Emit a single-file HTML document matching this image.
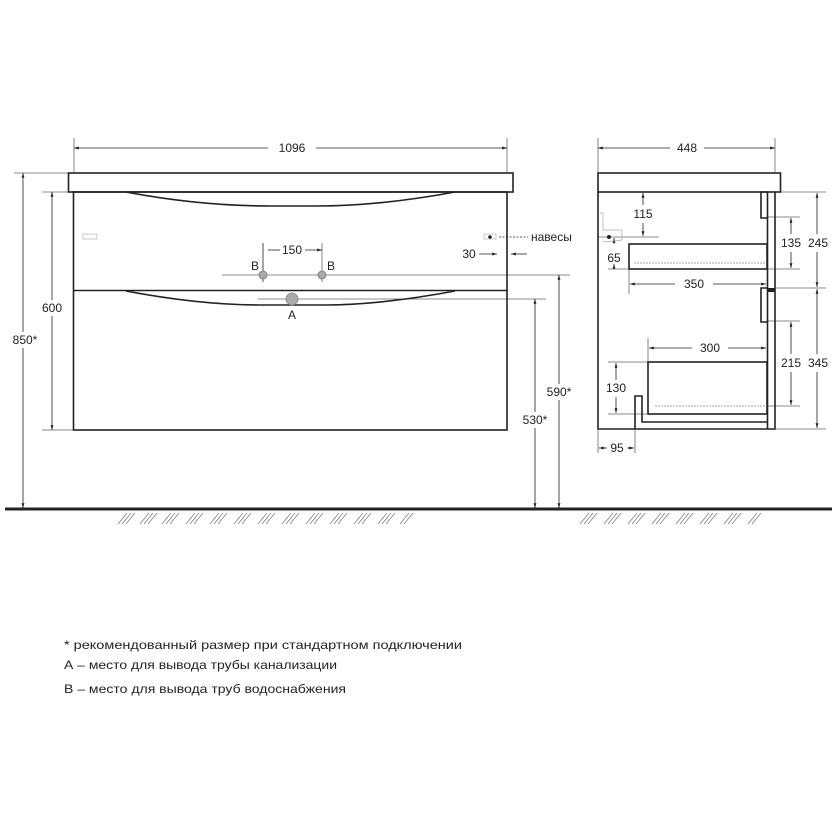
<!DOCTYPE html>
<html><head><meta charset="utf-8"><style>
html,body{margin:0;padding:0;background:#fff}
svg{display:block}
text{font-family:"Liberation Sans",sans-serif;font-size:12px;fill:#222}
</style></head><body>
<svg width="832" height="832" viewBox="0 0 832 832" xmlns="http://www.w3.org/2000/svg">
<defs>
<marker id="a" viewBox="0 0 10 10" refX="10" refY="5" markerWidth="6" markerHeight="6" orient="auto-start-reverse"><path d="M0,2 L10,5 L0,8z" fill="#222"/></marker>
</defs>
<g stroke="#666" stroke-width="0.8" fill="none">
<line x1="74" y1="138" x2="74" y2="172"/><line x1="507" y1="138" x2="507" y2="172"/>
<line x1="42" y1="192" x2="73" y2="192"/><line x1="42" y1="430" x2="73" y2="430"/>
<line x1="14" y1="173" x2="68" y2="173"/>
<line x1="222" y1="275" x2="570" y2="275"/>
<line x1="258" y1="299" x2="546" y2="299"/>
<line x1="263" y1="243" x2="263" y2="282" stroke="#222"/><line x1="322" y1="243" x2="322" y2="282"/>
<line x1="598" y1="138" x2="598" y2="172"/><line x1="775" y1="138" x2="775" y2="172"/>
<line x1="776" y1="192" x2="826" y2="192"/><line x1="776" y1="288" x2="826" y2="288"/><line x1="776" y1="429" x2="826" y2="429"/>
<line x1="768" y1="217" x2="800" y2="217"/><line x1="768" y1="269" x2="800" y2="269"/>
<line x1="768" y1="321" x2="800" y2="321"/><line x1="768" y1="406" x2="800" y2="406"/>
<line x1="598" y1="237" x2="659" y2="237"/><line x1="608" y1="269" x2="629" y2="269"/>
<line x1="629" y1="270" x2="629" y2="294"/>
<line x1="608" y1="362" x2="648" y2="362"/><line x1="608" y1="414" x2="648" y2="414"/>
<line x1="598" y1="430" x2="598" y2="453"/><line x1="635" y1="430" x2="635" y2="453"/>
<line x1="648" y1="338" x2="648" y2="362"/>
</g>
<g stroke="#222" stroke-width="0.8" fill="none">
<line x1="74" y1="148" x2="268" y2="148" marker-start="url(#a)"/><line x1="316" y1="148" x2="507" y2="148" marker-end="url(#a)"/>
<line x1="52" y1="192" x2="52" y2="300" marker-start="url(#a)"/><line x1="52" y1="316" x2="52" y2="430" marker-end="url(#a)"/>
<line x1="23" y1="173" x2="23" y2="332" marker-start="url(#a)"/><line x1="23" y1="348" x2="23" y2="508" marker-end="url(#a)"/>
<line x1="559" y1="275" x2="559" y2="384" marker-start="url(#a)"/><line x1="559" y1="400" x2="559" y2="508" marker-end="url(#a)"/>
<line x1="535" y1="299" x2="535" y2="412" marker-start="url(#a)"/><line x1="535" y1="428" x2="535" y2="508" marker-end="url(#a)"/>
<line x1="268" y1="250" x2="280" y2="250"/><line x1="305" y1="250" x2="322" y2="250" marker-end="url(#a)"/>
<line x1="479" y1="254" x2="497" y2="254" marker-end="url(#a)"/><line x1="527" y1="254" x2="511" y2="254" marker-end="url(#a)"/>
<line x1="499" y1="237" x2="528" y2="237" stroke-dasharray="2,1.5"/>
<line x1="598" y1="148" x2="670" y2="148" marker-start="url(#a)"/><line x1="704" y1="148" x2="775" y2="148" marker-end="url(#a)"/>
<line x1="643" y1="193" x2="643" y2="205" marker-start="url(#a)"/><line x1="643" y1="223" x2="643" y2="236" marker-end="url(#a)"/>
<line x1="614" y1="238" x2="614" y2="244" marker-start="url(#a)"/><line x1="614" y1="268" x2="614" y2="264" marker-end="url(#a)"/>
<line x1="630" y1="284" x2="675" y2="284" marker-start="url(#a)"/><line x1="713" y1="284" x2="766" y2="284" marker-end="url(#a)"/>
<line x1="791" y1="218" x2="791" y2="234" marker-start="url(#a)"/><line x1="791" y1="252" x2="791" y2="268" marker-end="url(#a)"/>
<line x1="817" y1="193" x2="817" y2="234" marker-start="url(#a)"/><line x1="817" y1="252" x2="817" y2="287" marker-end="url(#a)"/>
<line x1="791" y1="322" x2="791" y2="354" marker-start="url(#a)"/><line x1="791" y1="372" x2="791" y2="405" marker-end="url(#a)"/>
<line x1="817" y1="289" x2="817" y2="354" marker-start="url(#a)"/><line x1="817" y1="372" x2="817" y2="428" marker-end="url(#a)"/>
<line x1="649" y1="348" x2="692" y2="348" marker-start="url(#a)"/><line x1="728" y1="348" x2="766" y2="348" marker-end="url(#a)"/>
<line x1="616" y1="363" x2="616" y2="380" marker-start="url(#a)"/><line x1="616" y1="397" x2="616" y2="413" marker-end="url(#a)"/>
<line x1="599" y1="448" x2="607" y2="448" marker-start="url(#a)"/><line x1="627" y1="448" x2="634" y2="448" marker-end="url(#a)"/>
</g>
<g stroke="#222" stroke-width="1.6" fill="none">
<rect x="68.5" y="173" width="444.5" height="19"/>
<rect x="73.5" y="192" width="433.5" height="238"/>
<line x1="73.5" y1="290.5" x2="507" y2="290.5"/>
<path d="M126,192 Q200,206 270,206 L315,206 Q380,206 455,192"/>
<path d="M126,291 Q200,305 260,305 L325,305 Q380,305 455,291"/>
</g>
<rect x="83" y="234" width="14" height="5" fill="none" stroke="#bbb" stroke-width="0.8"/>
<rect x="484" y="234" width="12" height="5" fill="none" stroke="#bbb" stroke-width="0.8"/>
<circle cx="490" cy="237" r="1.8" fill="#222"/>
<circle cx="263" cy="275" r="4" fill="#aaa" stroke="#777" stroke-width="0.8"/>
<circle cx="322" cy="275" r="4" fill="#aaa" stroke="#777" stroke-width="0.8"/>
<circle cx="292" cy="299" r="6" fill="#aaa" stroke="#888" stroke-width="0.8"/>
<g stroke="#222" stroke-width="1.6" fill="none">
<rect x="598" y="173" width="182.5" height="19"/>
<path d="M598,192 L598,429 L775,429 L775,192"/>
<line x1="767.5" y1="192" x2="767.5" y2="429"/>
<path d="M767,192 L761,192 L761,218 L767,218"/>
<path d="M767,288 L761,288 L761,322 L767,322"/>
<rect x="629" y="244" width="138" height="25"/>
<rect x="648" y="362" width="119" height="52"/>
<path d="M635,429 L635,396 L642,396 L642,422 L767,422"/>
</g>
<rect x="767" y="288" width="8" height="4" fill="#222"/>
<g stroke="#888" stroke-width="0.7" fill="none" stroke-dasharray="2,1">
<line x1="634" y1="263" x2="765" y2="263"/><line x1="655" y1="406" x2="765" y2="406"/>
</g>
<path d="M600,213 L603,213 L603,230 L612,230 L622,230 L622,240 L603,242" stroke="#aaa" stroke-width="0.7" fill="none"/>
<circle cx="609" cy="237" r="2" fill="#222"/>
<line x1="5" y1="509" x2="832" y2="509" stroke="#222" stroke-width="3"/>
<g stroke="#777" stroke-width="0.7">
<path d="M118,524 L127,513 M122,524 L131,513 M126,524 L135,513 M140,524 L149,513 M144,524 L153,513 M148,524 L157,513 M162,524 L171,513 M166,524 L175,513 M170,524 L179,513 M186,524 L195,513 M190,524 L199,513 M194,524 L203,513 M210,524 L219,513 M214,524 L223,513 M218,524 L227,513 M234,524 L243,513 M238,524 L247,513 M242,524 L251,513 M258,524 L267,513 M262,524 L271,513 M266,524 L275,513 M282,524 L291,513 M286,524 L295,513 M290,524 L299,513 M306,524 L315,513 M310,524 L319,513 M314,524 L323,513 M330,524 L339,513 M334,524 L343,513 M338,524 L347,513 M354,524 L363,513 M358,524 L367,513 M362,524 L371,513 M378,524 L387,513 M382,524 L391,513 M386,524 L395,513 M400,524 L409,513 M404,524 L413,513"/>
<path d="M580,524 L589,513 M584,524 L593,513 M588,524 L597,513 M604,524 L613,513 M608,524 L617,513 M612,524 L621,513 M628,524 L637,513 M632,524 L641,513 M636,524 L645,513 M652,524 L661,513 M656,524 L665,513 M660,524 L669,513 M676,524 L685,513 M680,524 L689,513 M684,524 L693,513 M700,524 L709,513 M704,524 L713,513 M708,524 L717,513 M724,524 L733,513 M728,524 L737,513 M732,524 L741,513 M748,524 L757,513 M752,524 L761,513"/>
</g>
<g text-anchor="middle">
<text x="292" y="152">1096</text>
<text x="52" y="312">600</text>
<text x="25" y="344">850*</text>
<text x="559" y="396">590*</text>
<text x="535" y="424">530*</text>
<text x="292" y="254">150</text>
<text x="255" y="270">B</text>
<text x="331" y="270">B</text>
<text x="292" y="319">A</text>
<text x="469" y="258">30</text>
<text x="687" y="152">448</text>
<text x="643" y="218">115</text>
<text x="614" y="262">65</text>
<text x="694" y="288">350</text>
<text x="791" y="247">135</text>
<text x="818" y="247">245</text>
<text x="710" y="352">300</text>
<text x="791" y="367">215</text>
<text x="818" y="367">345</text>
<text x="616" y="392">130</text>
<text x="617" y="452">95</text>
</g>
<text x="531" y="241">навесы</text>
<g font-size="12">
<text x="64" y="649" textLength="398" lengthAdjust="spacingAndGlyphs">* рекомендованный размер при стандартном подключении</text>
<text x="64" y="669" textLength="273" lengthAdjust="spacingAndGlyphs">А – место для вывода трубы канализации</text>
<text x="64" y="693" textLength="282" lengthAdjust="spacingAndGlyphs">В – место для вывода труб водоснабжения</text>
</g>
</svg>
</body></html>
